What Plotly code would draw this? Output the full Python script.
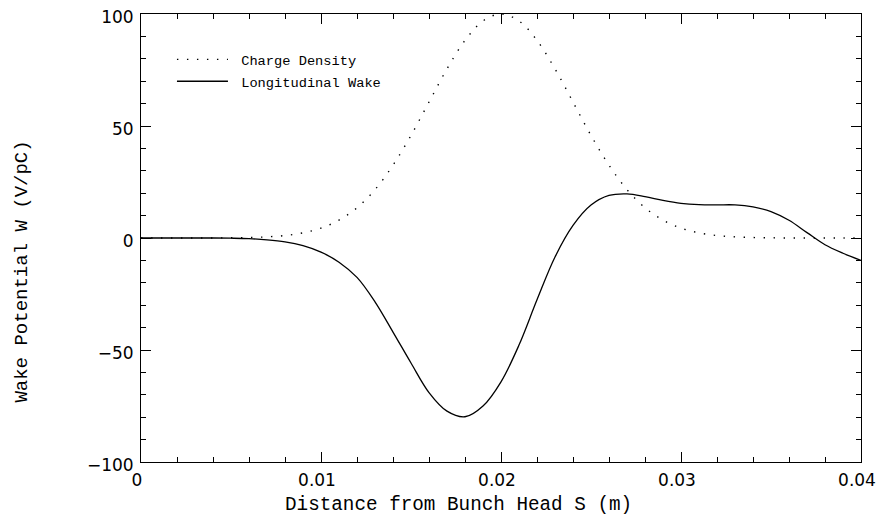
import plotly.graph_objects as go

# distance from bunch head (m), sampled every 1 mm
s_m = [i / 1000 for i in range(41)]

# charge density (arbitrary units, peak 100)
charge_density = [0.0, 0.0, 0.0, 0.0, 0.0, 0.1, 0.2, 0.5, 1.1, 2.3,
                  4.4, 8.0, 13.5, 21.6, 32.5, 45.8, 60.7, 75.5, 88.2, 96.9,
                  100.0, 96.9, 88.2, 75.5, 60.7, 45.8, 32.5, 21.6, 13.5, 8.0,
                  4.4, 2.3, 1.1, 0.5, 0.2, 0.1, 0.0, 0.0, 0.0, 0.0, 0.0]

# longitudinal wake potential (V/pC)
wake = [0.0, 0.0, 0.0, 0.0, 0.0, -0.1, -0.3, -0.8, -1.7, -3.4,
        -6.3, -10.8, -17.6, -28.5, -42.0, -55.8, -69.0, -77.3, -79.8, -75.0,
        -64.2, -47.8, -27.6, -8.5, 5.6, 14.7, 19.0, 19.7, 18.5, 16.8,
        15.5, 14.9, 14.8, 14.8, 13.9, 11.8, 7.9, 2.4, -3.0, -6.8, -10.0]

x_ticks = [0, 0.01, 0.02, 0.03, 0.04]
x_tick_text = ["0", "0.01", "0.02", "0.03", "0.04"]
y_ticks = [-100, -50, 0, 50, 100]
y_tick_text = ["\u2212100", "\u221250", "0", "50", "100"]

x_title = "Distance from Bunch Head S (m)"
y_title = "Wake Potential W (V/pC)"

MONO = "Liberation Mono, Courier New, monospace"
SANS = "DejaVu Sans, Arial, sans-serif"
NB = "\u00a0"

fig = go.Figure()
fig.add_trace(go.Scatter(
    x=s_m, y=charge_density, mode="lines", name=NB + "Charge Density",
    line=dict(color="black", width=1.4, dash="1.4px,8.6px", shape="spline"),
    legendgroup="a",
))
fig.add_trace(go.Scatter(
    x=s_m, y=wake, mode="lines", name=NB + "Longitudinal Wake",
    line=dict(color="black", width=1.3, shape="spline"),
    legendgroup="b",
))

axis_common = dict(
    showline=True, linecolor="black", linewidth=1, mirror="allticks",
    ticks="inside", ticklen=10, tickwidth=1, tickcolor="black",
    showgrid=False, zeroline=False, automargin=False,
    ticklabeloverflow="allow",
    tickfont=dict(family=SANS, size=17, color="black"),
)

fig.update_xaxes(
    range=[0, 0.04], tickvals=x_ticks, ticktext=x_tick_text,
    minor=dict(ticks="inside", ticklen=5, dtick=0.002, tick0=0,
               tickcolor="black", tickwidth=1, showgrid=False),
    ticklabelstandoff=3, ticklabelshift=-4,
    **axis_common,
)
fig.update_yaxes(
    range=[-100, 100], tickvals=y_ticks, ticktext=y_tick_text,
    minor=dict(ticks="inside", ticklen=5, dtick=10, tick0=0,
               tickcolor="black", tickwidth=1, showgrid=False),
    ticklabelstandoff=3, ticklabelshift=3,
    **axis_common,
)

# axis titles (placed as in the reference, not centred on the axes)
fig.add_annotation(
    text=x_title, xref="paper", yref="paper", x=0.4403, y=-0.096,
    xanchor="center", yanchor="middle", showarrow=False,
    font=dict(family=MONO, size=19.3, color="black"),
)
fig.add_annotation(
    text=y_title, xref="paper", yref="paper", x=-0.1653, y=0.425,
    xanchor="center", yanchor="middle", showarrow=False, textangle=-90,
    font=dict(family=MONO, size=19, color="black"),
)

fig.update_layout(
    width=879, height=522,
    margin=dict(l=141, r=18, t=14, b=60),
    paper_bgcolor="white", plot_bgcolor="white",
    showlegend=True,
    legend=dict(
        x=0.043, y=0.933, xanchor="left", yanchor="top",
        bgcolor="rgba(0,0,0,0)", borderwidth=0,
        font=dict(family=MONO, size=13.7, color="black"),
        itemwidth=51, tracegroupgap=1, traceorder="grouped",
    ),
)

# remove the browser's default 8px body margin so the figure fills the window
fig.write_html(
    "out.html",
    config={"displayModeBar": False},
    post_script="document.body.style.margin='0';document.body.style.overflow='hidden';",
)
